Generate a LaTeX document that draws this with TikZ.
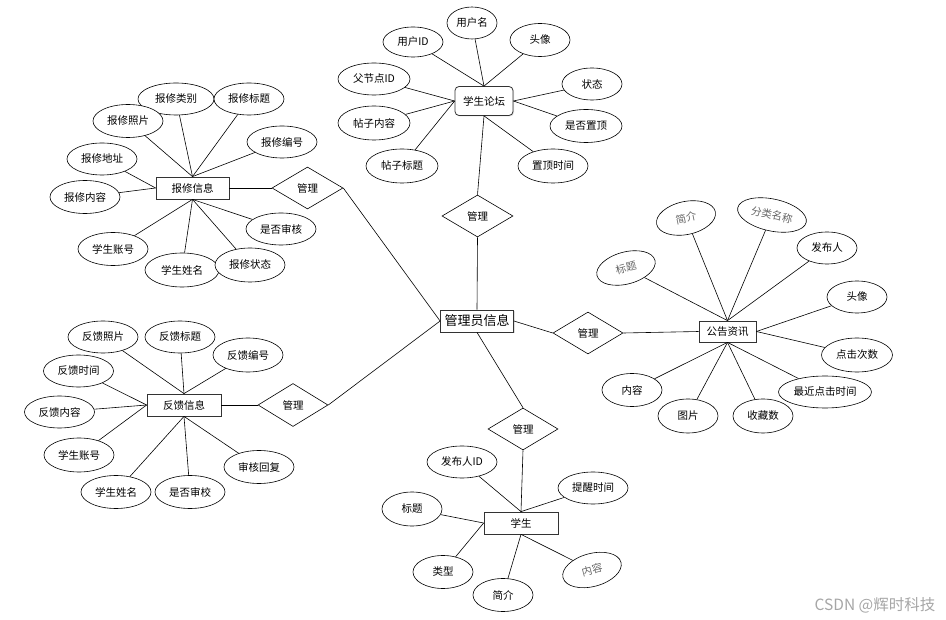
\documentclass[tikz,border=0pt]{standalone}
\usepackage{fontspec}
\setmainfont{Noto Sans CJK SC}
\usetikzlibrary{shapes.geometric,shadows}
\begin{document}
\begin{tikzpicture}[x=1pt,y=-1pt,
  every node/.style={font=\fontsize{10.5}{12}\selectfont, inner sep=0pt},
  attr/.style={ellipse, draw=black, line width=0.6pt, fill=white, minimum width=70, minimum height=33},
  sattr/.style={attr, minimum width=60},
  gtxt/.style={text=black!60},
  ent/.style={rectangle, draw=black!80, line width=0.8pt, fill=white, minimum width=73, minimum height=22,
    drop shadow={shadow xshift=1pt, shadow yshift=-1pt, opacity=0.25}},
  rel/.style={diamond, draw=black, line width=0.6pt, fill=white, minimum width=71, minimum height=42},
  conn/.style={draw=black, line width=0.6pt}
]
\useasboundingbox (0,0) rectangle (946,620);

% ---------- 学生论坛 ----------
\node[ent, rounded corners=4pt, minimum width=58, minimum height=29] (forum) at (484,101) {学生论坛};
\node[attr, minimum width=50, minimum height=32] (f1) at (472,23) {用户名};
\node[sattr, minimum height=30] (f2) at (413,42) {用户ID};
\node[sattr] (f3) at (540,40) {头像};
\node[attr, minimum width=72, minimum height=32] (f4) at (374,79) {父节点ID};
\node[sattr, minimum height=32] (f5) at (592,84) {状态};
\node[attr, minimum width=72, minimum height=34] (f6) at (374,123) {帖子内容};
\node[attr, minimum width=72] (f7) at (586,126) {是否置顶};
\node[attr, minimum width=72, minimum height=34] (f8) at (402,166) {帖子标题};
\node[attr, minimum height=34] (f9) at (553,166) {置顶时间};
\draw[conn] (forum.north) -- (f1);
\draw[conn] (forum.north) -- (f2);
\draw[conn] (forum.north) -- (f3);
\draw[conn] (forum.west) -- (f4);
\draw[conn] (forum.west) -- (f6);
\draw[conn] (forum.west) -- (f8);
\draw[conn] (forum.east) -- (f5);
\draw[conn] (forum.east) -- (f7);
\draw[conn] (forum.south) -- (f9);

\node[rel] (m1) at (477.5,216) {管理};
\draw[conn] (forum.south) -- (m1.north);

% ---------- 管理员信息 ----------
\node[ent, font=\fontsize{13}{15}\selectfont] (admin) at (477,321) {管理员信息};
\draw[conn] (m1.south) -- (admin.north);

% ---------- 公告资讯 ----------
\node[rel, minimum width=70] (m2) at (588,333) {管理};
\node[ent, minimum width=57, minimum height=21] (ann) at (727.5,331.5) {公告资讯};
\draw[conn] (admin.east) -- (m2.west);
\draw[conn] (m2.east) -- (ann.west);
\node[sattr, rotate=12, gtxt] (a1) at (686,218) {简介};
\node[attr, minimum height=32, rotate=-12, gtxt] (a2) at (772,215) {分类名称};
\node[sattr, minimum height=32, rotate=15, gtxt] (a3) at (626,268) {标题};
\node[sattr, minimum height=32] (a4) at (827,248) {发布人};
\node[sattr, minimum height=32] (a5) at (857,297) {头像};
\node[attr, minimum width=71, minimum height=34] (a6) at (857,355) {点击次数};
\node[attr, minimum width=93, minimum height=32] (a7) at (825,392) {最近点击时间};
\node[sattr, minimum height=34] (a8) at (763,416) {收藏数};
\node[sattr, minimum height=34] (a9) at (688,416) {图片};
\node[sattr] (a10) at (632,390) {内容};
\draw[conn] (ann.north) -- (a1);
\draw[conn] (ann.north) -- (a2);
\draw[conn] (ann.north) -- (a3);
\draw[conn] (ann.north) -- (a4);
\draw[conn] (ann.east) -- (a5);
\draw[conn] (ann.east) -- (a6);
\draw[conn] (ann.south) -- (a7);
\draw[conn] (ann.south) -- (a8);
\draw[conn] (ann.south) -- (a9);
\draw[conn] (ann.south) -- (a10);

% ---------- 报修信息 ----------
\node[ent] (rep) at (192.5,188) {报修信息};
\node[attr, minimum width=76, minimum height=32] (r1) at (176,99) {报修类别};
\node[attr, minimum height=32] (r2) at (249,99) {报修标题};
\node[attr] (r3) at (128,121) {报修照片};
\node[attr, minimum height=32] (r4) at (282,142) {报修编号};
\node[attr, minimum height=32] (r5) at (102,159) {报修地址};
\node[attr] (r6) at (85,197) {报修内容};
\node[attr, minimum height=32] (r7) at (281,229) {是否审核};
\node[attr] (r8) at (113,249) {学生账号};
\node[attr, minimum width=74, minimum height=34] (r9) at (182,270) {学生姓名};
\node[attr, minimum height=34] (r10) at (250,265) {报修状态};
\draw[conn] (rep.north) -- (r1);
\draw[conn] (rep.north) -- (r2);
\draw[conn] (rep.north) -- (r3);
\draw[conn] (rep.north) -- (r4);
\draw[conn] (rep.west) -- (r5);
\draw[conn] (rep.west) -- (r6);
\draw[conn] (rep.south) -- (r7);
\draw[conn] (rep.south) -- (r8);
\draw[conn] (rep.south) -- (r9);
\draw[conn] (rep.south) -- (r10);
\node[rel] (m3) at (307.5,188) {管理};
\draw[conn] (rep.east) -- (m3.west);
\draw[conn] (m3.east) -- (admin.west);

% ---------- 反馈信息 ----------
\node[ent, minimum width=74] (fb) at (184,405) {反馈信息};
\node[attr, minimum height=32] (b1) at (103,337) {反馈照片};
\node[attr, minimum height=32] (b2) at (180,337) {反馈标题};
\node[attr, minimum height=34] (b3) at (248,355) {反馈编号};
\node[attr, minimum height=32] (b4) at (78.5,371) {反馈时间};
\node[attr, minimum height=32] (b5) at (59.5,412) {反馈内容};
\node[attr, minimum height=34] (b6) at (79,455) {学生账号};
\node[attr] (b7) at (116,492) {学生姓名};
\node[attr] (b8) at (190,492) {是否审校};
\node[attr] (b9) at (259,467) {审核回复};
\draw[conn] (fb.north) -- (b1);
\draw[conn] (fb.north) -- (b2);
\draw[conn] (fb.north) -- (b3);
\draw[conn] (fb.west) -- (b4);
\draw[conn] (fb.west) -- (b5);
\draw[conn] (fb.west) -- (b6);
\draw[conn] (fb.south) -- (b7);
\draw[conn] (fb.south) -- (b8);
\draw[conn] (fb.south) -- (b9);
\node[rel, minimum width=70, minimum height=43] (m4) at (293,405) {管理};
\draw[conn] (fb.east) -- (m4.west);
\draw[conn] (m4.east) -- (admin.west);

% ---------- 学生 ----------
\node[rel, minimum width=70] (m5) at (523,429) {管理};
\node[ent, minimum width=74] (stu) at (521,523) {学生};
\draw[conn] (admin.south) -- (m5.north);
\draw[conn] (m5.south) -- (stu.north);
\node[attr, minimum height=32] (s1) at (462,462) {发布人ID};
\node[attr, minimum height=32] (s2) at (593,488) {提醒时间};
\node[sattr, minimum height=34] (s3) at (412,509) {标题};
\node[sattr] (s4) at (443,572) {类型};
\node[sattr] (s5) at (503,595) {简介};
\node[sattr, rotate=15, gtxt] (s6) at (592,570) {内容};
\draw[conn] (stu.north) -- (s1);
\draw[conn] (stu.north) -- (s2);
\draw[conn] (stu.west) -- (s3);
\draw[conn] (stu.west) -- (s4);
\draw[conn] (stu.south) -- (s5);
\draw[conn] (stu.south) -- (s6);

% ---------- watermark ----------
\node[text=black!35, font=\fontsize{15.5}{17}\selectfont] (wm) at (875,605) {CSDN @辉时科技};
\end{tikzpicture}
\end{document}
